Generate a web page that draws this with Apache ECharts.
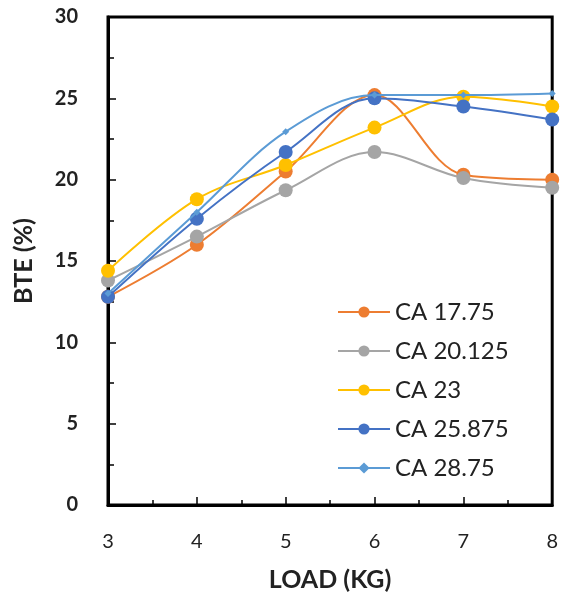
<!DOCTYPE html>
<html><head><meta charset="utf-8">
<script src="https://cdn.jsdelivr.net/npm/echarts@6/dist/echarts.min.js"></script>
<style>html,body{margin:0;padding:0;background:#fff}#c{width:561px;height:597px}</style>
</head><body><div id="c"></div>
<script>
var loads = [3, 4, 5, 6, 7, 8];
var seriesNames = ['CA 17.75', 'CA 20.125', 'CA 23', 'CA 25.875', 'CA 28.75'];
var ca1775 = [12.8, 16.0, 20.5, 25.2, 20.3, 20.0];
var ca20125 = [13.8, 16.5, 19.35, 21.7, 20.1, 19.5];
var ca23 = [14.4, 18.8, 20.9, 23.2, 25.1, 24.5];
var ca25875 = [12.8, 17.6, 21.7, 25.0, 24.5, 23.7];
var ca2875 = [13.0, 18.0, 22.95, 25.2, 25.2, 25.3];
var yTicks = [0, 5, 10, 15, 20, 25, 30];
var colors = ['#ED7D31', '#A5A5A5', '#FFC000', '#4472C4', '#5B9BD5'];
var allData = [ca1775, ca20125, ca23, ca25875, ca2875];

var chart = echarts.init(document.getElementById('c'));
var font = 'Lato, "Open Sans", sans-serif';
var txt = '#222';
var series = allData.map(function (d, i) {
  return {
    name: seriesNames[i],
    type: 'line',
    smooth: 0.35,
    data: d.map(function (v, j) { return [loads[j], v]; }),
    symbol: i === 4 ? 'diamond' : 'circle',
    symbolSize: i === 4 ? 7 : 14,
    lineStyle: { color: colors[i], width: 2 },
    itemStyle: { color: colors[i] },
    z: 2 + i
  };
});
chart.setOption({
  animation: false,
  grid: { left: 108, right: 7, top: 17, bottom: 92, show: true, borderColor: '#000', borderWidth: 3, backgroundColor: 'transparent' },
  legend: {
    orient: 'vertical', left: 332, top: 295, itemWidth: 52, itemHeight: 14, itemGap: 15,
    data: seriesNames,
    textStyle: { fontFamily: font, fontSize: 24, lineHeight: 24, color: txt }
  },
  xAxis: {
    type: 'value', min: 3, max: 8, interval: 1,
    name: 'LOAD (KG)', nameLocation: 'middle', nameGap: 62,
    nameTextStyle: { fontFamily: font, fontSize: 25, fontWeight: 'bold', color: txt },
    axisLine: { lineStyle: { color: '#000', width: 3 } },
    axisTick: { inside: true, length: 8, lineStyle: { color: '#000', width: 1.5 } },
    minorTick: { show: true, splitNumber: 2, length: 5, lineStyle: { color: '#000', width: 1.5 } },
    splitLine: { show: false },
    axisLabel: { fontFamily: font, fontSize: 20, color: txt, margin: 27 }
  },
  yAxis: {
    type: 'value', min: 0, max: 30, interval: 5,
    name: 'BTE (%)', nameLocation: 'middle', nameGap: 72, nameRotate: 90,
    nameTextStyle: { fontFamily: font, fontSize: 25, fontWeight: 'bold', color: txt },
    axisLine: { lineStyle: { color: '#000', width: 3 } },
    axisTick: { inside: true, length: 8, lineStyle: { color: '#000', width: 1.5 } },
    minorTick: { show: true, splitNumber: 2, length: 6, lineStyle: { color: '#000', width: 1.5 } },
    splitLine: { show: false },
    axisLabel: { fontFamily: font, fontSize: 20, fontWeight: 'bold', color: txt, margin: 30,
      formatter: function (v) { return yTicks.indexOf(v) >= 0 ? String(v) : ''; } }
  },
  series: series
});
</script></body></html>
